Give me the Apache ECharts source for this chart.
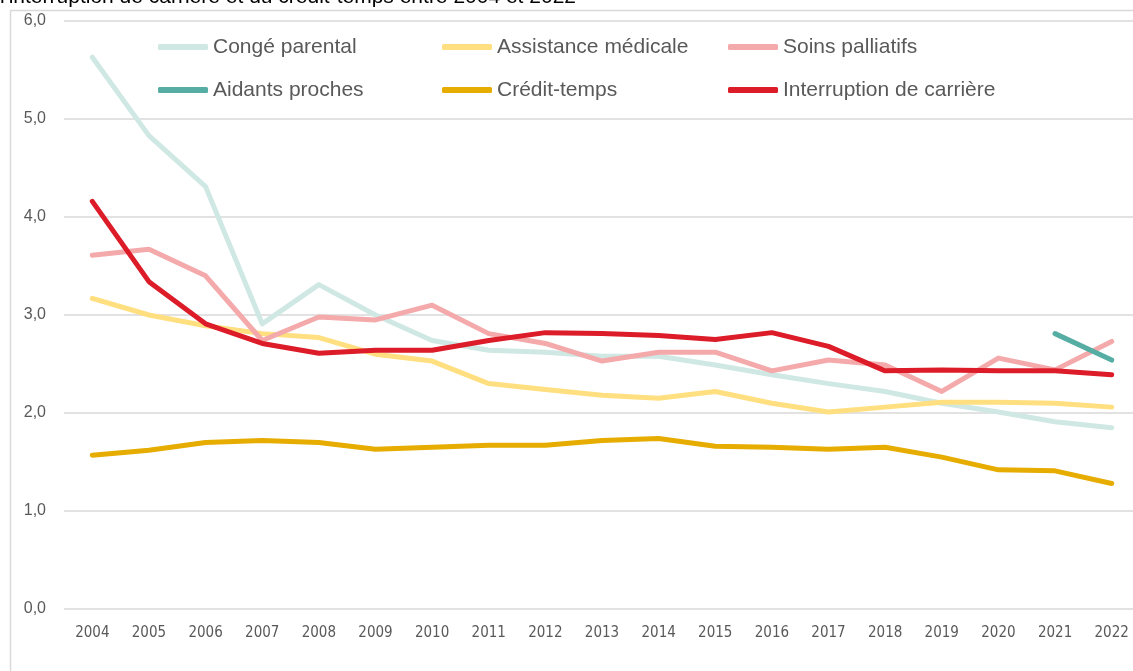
<!DOCTYPE html>
<html>
<head>
<meta charset="utf-8">
<script src="https://cdn.jsdelivr.net/npm/echarts@6/dist/echarts.min.js"></script>
<style>
  html, body { margin: 0; padding: 0; background: #fff; }
  #chart { width: 1133px; height: 671px; }
</style>
</head>
<body>
<div id="chart"></div>
<script>
// années
const years = ['2004', '2005', '2006', '2007', '2008', '2009', '2010', '2011', '2012', '2013',
  '2014', '2015', '2016', '2017', '2018', '2019', '2020', '2021', '2022']

const congeParental = [5.63, 4.83, 4.31, 2.91, 3.31, 3.0, 2.74, 2.64, 2.62, 2.58,
  2.58, 2.49, 2.39, 2.30, 2.22, 2.10, 2.01, 1.91, 1.85]
const assistanceMedicale = [3.17, 3.0, 2.89, 2.81, 2.77, 2.60, 2.53, 2.30, 2.24, 2.18,
  2.15, 2.22, 2.10, 2.01, 2.06, 2.11, 2.11, 2.10, 2.06]
const soinsPalliatifs = [3.61, 3.67, 3.40, 2.74, 2.98, 2.95, 3.10, 2.81, 2.71, 2.53,
  2.62, 2.62, 2.43, 2.54, 2.49, 2.22, 2.56, 2.44, 2.73]
const aidantsProches = [null, null, null, null, null, null, null, null, null, null,
  null, null, null, null, null, null, null, 2.81, 2.54]
const creditTemps = [1.57, 1.62, 1.70, 1.72, 1.70, 1.63, 1.65, 1.67, 1.67, 1.72,
  1.74, 1.66, 1.65, 1.63, 1.65, 1.55, 1.42, 1.41, 1.28]
const interruptionCarriere = [4.16, 3.34, 2.91, 2.71, 2.61, 2.64, 2.64, 2.74, 2.82, 2.81,
  2.79, 2.75, 2.82, 2.68, 2.43, 2.44, 2.43, 2.43, 2.39]

const seriesDefs = [
  { name: 'Congé parental', data: congeParental, color: '#cfe8e3' },
  { name: 'Assistance médicale', data: assistanceMedicale, color: '#ffdf80' },
  { name: 'Soins palliatifs', data: soinsPalliatifs, color: '#f4a9ab' },
  { name: 'Aidants proches', data: aidantsProches, color: '#55ada4' },
  { name: 'Crédit-temps', data: creditTemps, color: '#e6ac00' },
  { name: 'Interruption de carrière', data: interruptionCarriere, color: '#dc1c28' }
]

// position des entrées de légende (2 lignes x 3 colonnes)
const legendPos = [
  [158, 47], [442, 47], [728, 47],
  [158, 90], [442, 90], [728, 90]
]

const fontFam = '"Liberation Sans", "DejaVu Sans", sans-serif'

const chart = echarts.init(document.getElementById('chart'))

const legends = seriesDefs.map((s, i) => ({
  data: [s.name],
  left: legendPos[i][0],
  top: legendPos[i][1] - 12,
  padding: 0,
  icon: 'roundRect',
  itemWidth: 50,
  itemHeight: 6,
  selectedMode: false,
  textStyle: { color: '#595959', fontSize: 21, lineHeight: 24, fontFamily: fontFam }
}))

chart.setOption({
  animation: false,
  backgroundColor: '#ffffff',
  title: {
    text: "l'interruption de carrière et du crédit-temps entre 2004 et 2022",
    left: 0,
    top: -13,
    padding: 0,
    textStyle: { color: '#000', fontSize: 21, fontWeight: 'normal', fontFamily: fontFam }
  },
  graphic: [
    {
      type: 'rect',
      shape: { x: 10.5, y: 10.5, width: 1200, height: 700 },
      style: { fill: 'none', stroke: '#d9d9d9', lineWidth: 1.5 },
      silent: true
    }
  ],
  legend: legends,
  // la zone de tracé déborde un peu à droite, comme sur l'original
  grid: { left: 64, right: -7, top: 21, bottom: 62, outerBoundsMode: 'none' },
  xAxis: {
    type: 'category',
    data: years,
    boundaryGap: true,
    axisLine: { show: false },
    axisTick: { show: false },
    axisLabel: { color: '#595959', fontSize: 15, margin: 17, interval: 0, fontFamily: '"DejaVu Sans Condensed", "DejaVu Sans", sans-serif' }
  },
  yAxis: {
    type: 'value',
    min: 0,
    max: 6,
    interval: 1,
    axisLine: { show: false },
    axisTick: { show: false },
    splitLine: { lineStyle: { color: '#d9d9d9', width: 1.5 } },
    axisLabel: {
      color: '#595959',
      fontSize: 16,
      margin: 18,
      fontFamily: fontFam,
      formatter: v => v.toFixed(1).replace('.', ',')
    }
  },
  series: seriesDefs.map(s => ({
    name: s.name,
    type: 'line',
    data: s.data,
    showSymbol: false,
    symbol: 'none',
    connectNulls: false,
    color: s.color,
    lineStyle: { color: s.color, width: 5, cap: 'round', join: 'round' }
  }))
})
</script>
</body>
</html>
